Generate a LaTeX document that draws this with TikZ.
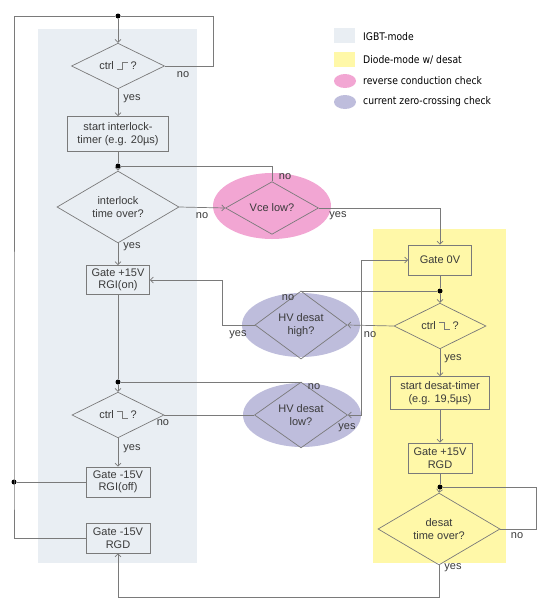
\documentclass[tikz,border=0pt]{standalone}
\usepackage{fontspec}
\setmainfont{Liberation Sans}
\newfontfamily\legfont[FakeStretch=0.88]{DejaVu Sans}
\usetikzlibrary{shapes.geometric,arrows.meta}
\definecolor{igbt}{HTML}{E9EEF3}
\definecolor{diode}{HTML}{FFF8A8}
\definecolor{revc}{HTML}{F2A6D3}
\definecolor{zc}{HTML}{BEBDDC}
\definecolor{ln}{HTML}{7A7A7A}
\definecolor{tx}{HTML}{3A3A3A}
\newcommand{\riseedge}{{\color{ln}\rule{5pt}{0.6pt}\rule{0.6pt}{8pt}\rule[7.4pt]{5pt}{0.6pt}}}
\newcommand{\falledge}{{\color{ln}\rule[7.4pt]{5pt}{0.6pt}\rule{0.6pt}{8pt}\rule{5pt}{0.6pt}}}
\tikzset{
  mainfont/.style={font=\fontsize{11}{12.5}\selectfont, text=tx},
  stepbox/.style={draw=ln, line width=0.7pt, align=center, inner sep=1pt, mainfont},
  dia/.style={draw=ln, line width=0.7pt, shape=diamond, inner sep=0pt, align=center, mainfont},
  lbl/.style={mainfont, inner sep=0pt},
  flow/.style={draw=ln, line width=0.7pt},
  arr/.style={flow, -{Straight Barb[length=3pt,width=6pt]}},
  jdot/.style={circle, fill=black, inner sep=0pt, minimum size=5pt},
  legtext/.style={font=\legfont\fontsize{10.5}{12}\selectfont, text=black, anchor=west, inner sep=0pt}
}
\begin{document}
\begin{tikzpicture}[x=1pt,y=-1pt]
\useasboundingbox (0,0) rectangle (547,600);
% background regions
\fill[igbt] (38,29) rectangle (197,563);
\fill[diode] (373,229) rectangle (506,563);
\fill[revc] (272,206) ellipse [x radius=59pt, y radius=33pt];
\fill[zc] (301,325) ellipse [x radius=59pt, y radius=32pt];
\fill[zc] (302,415) ellipse [x radius=59pt, y radius=32pt];
% legend
\node[fill=igbt, minimum width=21pt, minimum height=15pt, inner sep=0pt] (lg1) at (344.5,35.5) {};
\node[fill=diode, minimum width=21pt, minimum height=15pt, inner sep=0pt] (lg2) at (344.5,59.5) {};
\node[fill=revc, ellipse, minimum width=22pt, minimum height=14pt, inner sep=0pt] (lg3) at (345,81) {};
\node[fill=zc, ellipse, minimum width=22pt, minimum height=14pt, inner sep=0pt] (lg4) at (345,102) {};
\node[legtext] (lt1) at (363,37) {IGBT-mode};
\node[legtext] (lt2) at (363,60) {Diode-mode w/ desat};
\node[legtext] (lt3) at (363,81) {reverse conduction check};
\node[legtext] (lt4) at (363,102) {current zero-crossing check};
% left column
\node[jdot] (topdot) at (118,16) {};
\node[dia, minimum width=93pt, minimum height=37pt] (c1) at (118,66) {ctrl \riseedge\ ?};
\node[stepbox, minimum width=101pt, minimum height=35pt] (timer) at (118,134) {start interlock-\\timer (e.g. 20µs)};
\node[jdot] (dot2) at (118,166) {};
\node[dia, minimum width=122pt, minimum height=51pt] (inter) at (118,207) {interlock\\time over?};
\node[stepbox, minimum width=63pt, minimum height=29pt] (rgion) at (118,280) {Gate +15V\\RGI(on)};
\node[jdot] (dot3) at (118,382) {};
\node[dia, minimum width=92pt, minimum height=37pt] (c2) at (118,415) {ctrl \falledge\ ?};
\node[stepbox, minimum width=64pt, minimum height=30pt] (rgioff) at (118,482) {Gate -15V\\RGI(off)};
\node[stepbox, minimum width=64pt, minimum height=30pt] (rgd) at (118,538) {Gate -15V\\RGD};
\node[jdot] (offdot) at (14,482) {};
% middle checks
\node[dia, minimum width=93pt, minimum height=39pt] (vce) at (272,208) {Vce low?};
\node[dia, minimum width=92pt, minimum height=36pt] (hvhigh) at (301,325) {HV desat\\high?};
\node[dia, minimum width=93pt, minimum height=37pt] (hvlow) at (301,415) {HV desat\\low?};
% right column
\node[stepbox, minimum width=63pt, minimum height=30pt] (gate0) at (440,260) {Gate 0V};
\node[jdot] (dot4) at (440,291) {};
\node[dia, minimum width=92pt, minimum height=38pt] (c3) at (440,326) {ctrl \falledge\ ?};
\node[stepbox, minimum width=99pt, minimum height=33pt] (dtimer) at (440,393) {start desat-timer\\(e.g. 19,5µs)};
\node[stepbox, minimum width=64pt, minimum height=30pt] (rgdp) at (440,458) {Gate +15V\\RGD};
\node[jdot] (dot5) at (440,487) {};
\node[dia, minimum width=122pt, minimum height=50pt] (desat) at (439,529) {desat\\time over?};
% connectors
\draw[flow] (rgd.west) -| (offdot.center) |- (topdot);
\draw[flow] (rgioff.west) -- (offdot);
\draw[arr] (topdot) -- (c1.north);
\draw[flow] (c1.east) -- ++(48,0) |- (topdot);
\draw[arr] (c1.south) -- (timer.north);
\draw[flow] (timer.south) -- (dot2);
\draw[arr] (dot2) -- (inter.north);
\draw[flow] (vce.north) |- (dot2);
\draw[arr] (inter.east) -- (vce.west);
\draw[arr] (vce.east) -| (gate0.north);
\draw[arr] (inter.south) -- (rgion.north);
\draw[flow] (rgion.south) -- (dot3);
\draw[arr] (dot3) -- (c2.north);
\draw[flow] (hvlow.north) |- (dot3);
\draw[flow] (c2.east) -- (hvlow.west);
\draw[flow, {Straight Barb[length=3pt,width=6pt]}-{Straight Barb[length=3pt,width=6pt]}] (hvlow.east) -- ++(13,0) |- (gate0.west);
\draw[arr] (c2.south) -- (rgioff.north);
\draw[flow] (gate0.south) -- (dot4);
\draw[arr] (dot4) -- (c3.north);
\draw[flow] (hvhigh.north) |- (dot4);
\draw[arr] (c3.west) -- (hvhigh.east);
\draw[arr] (hvhigh.west) -- ++(-32,0) |- (rgion.east);
\draw[arr] (c3.south) -- (dtimer.north);
\draw[arr] (dtimer.south) -- (rgdp.north);
\draw[flow] (rgdp.south) -- (dot5);
\draw[arr] (dot5) -- (desat.north);
\draw[flow] (desat.east) -- ++(36,0) |- (dot5);
\draw[arr] (desat.south) -- ++(0,32) -| (rgd.south);
% yes/no labels
\node[lbl] (l1) at (183,75) {no};
\node[lbl] (l2) at (132,99) {yes};
\node[lbl] (l3) at (202,216) {no};
\node[lbl] (l4) at (285,177) {no};
\node[lbl] (l5) at (338,216) {yes};
\node[lbl] (l6) at (132,247) {yes};
\node[lbl] (l7) at (288,298) {no};
\node[lbl] (l8) at (238,335) {yes};
\node[lbl] (l9) at (370,335) {no};
\node[lbl] (l10) at (453,359) {yes};
\node[lbl] (l11) at (314,387) {no};
\node[lbl] (l12) at (163,423) {no};
\node[lbl] (l13) at (347,428) {yes};
\node[lbl] (l14) at (132,449) {yes};
\node[lbl] (l15) at (517,536) {no};
\node[lbl] (l16) at (453,568) {yes};
\end{tikzpicture}
\end{document}
